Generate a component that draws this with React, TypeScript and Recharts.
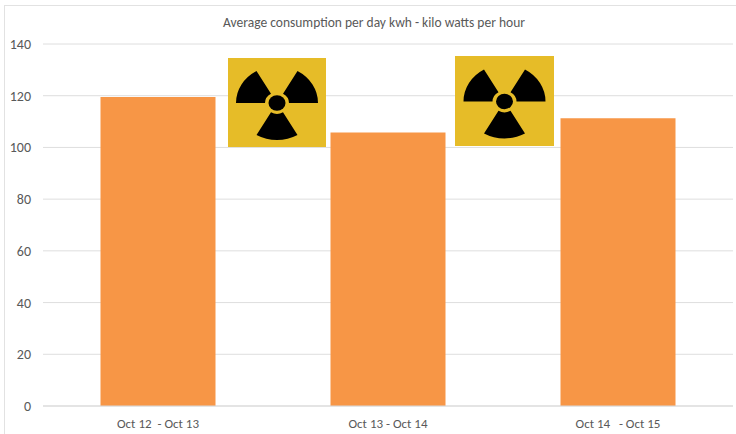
import { BarChart, Bar, XAxis, YAxis, CartesianGrid } from "recharts";

const periods = ["Oct 12\u00a0 - Oct 13", "Oct 13 - Oct 14", "Oct 14 \u00a0 - Oct 15"];
const consumption = [119.5, 105.8, 111.3];
const yTicks = [0, 20, 40, 60, 80, 100, 120, 140];

const data = periods.map((period, i) => ({ period, kwh: consumption[i] }));

const font = "Carlito, 'Open Sans', 'Noto Sans', sans-serif";

// blades of the trefoil, 60 degree wedges
function wedge(from: number, to: number, inner: number, outer: number) {
  const pt = (a: number, r: number) => {
    const t = (a * Math.PI) / 180;
    return `${(r * Math.cos(t)).toFixed(2)} ${(-r * Math.sin(t)).toFixed(2)}`;
  };
  return `M${pt(from, inner)} L${pt(from, outer)} A${outer} ${outer} 0 0 0 ${pt(to, outer)} L${pt(to, inner)} A${inner} ${inner} 0 0 1 ${pt(from, inner)} Z`;
}

function Radiation({ left, top, width, height }: { left: number; top: number; width: number; height: number }) {
  return (
    <svg style={{ position: "absolute", left, top }} width={width} height={height}>
      <rect width={width} height={height} fill="#e6bc28" />
      <g transform={`translate(${width / 2} ${height / 2 + 0.5}) scale(1 0.9)`} fill="#000">
        <path d={wedge(120, 180, 12, 41)} />
        <path d={wedge(0, 60, 12, 41)} />
        <path d={wedge(240, 300, 12, 41)} />
        <circle r={8.5} />
      </g>
    </svg>
  );
}

export default function App() {
  return (
    <div style={{ position: "absolute", left: 0, top: 0, width: 736, height: 434, background: "#fff", overflow: "hidden" }}>
      <div style={{ position: "absolute", left: 4, top: 5, width: 740, height: 440, border: "1px solid #e2e2e2", boxSizing: "border-box" }} />
      <div style={{ position: "absolute", left: 0, top: 14, width: 748, textAlign: "center", fontFamily: font, fontSize: 13.5, color: "#595959" }}>
        Average consumption per day kwh - kilo watts per hour
      </div>
      <BarChart
        width={736}
        height={434}
        data={data}
        margin={{ top: 44, right: 3, bottom: 0, left: 0 }}
        barCategoryGap="25%"
        style={{ position: "absolute", left: 0, top: 0 }}
      >
        <CartesianGrid vertical={false} stroke="#dedede" />
        <XAxis
          dataKey="period"
          height={28}
          axisLine={{ stroke: "#d9d9d9" }}
          tickLine={false}
          interval={0}
          tick={{ fontSize: 13, fill: "#595959", fontFamily: font }}
          tickMargin={7}
        />
        <YAxis
          width={43}
          domain={[0, 140]}
          ticks={yTicks}
          axisLine={false}
          tickLine={false}
          tick={{ fontSize: 14, fill: "#595959", fontFamily: font }}
          tickMargin={6}
        />
        <Bar dataKey="kwh" fill="#f79646" isAnimationActive={false} />
      </BarChart>
      <Radiation left={228} top={58} width={98} height={89} />
      <Radiation left={455} top={56} width={99} height={90} />
    </div>
  );
}
